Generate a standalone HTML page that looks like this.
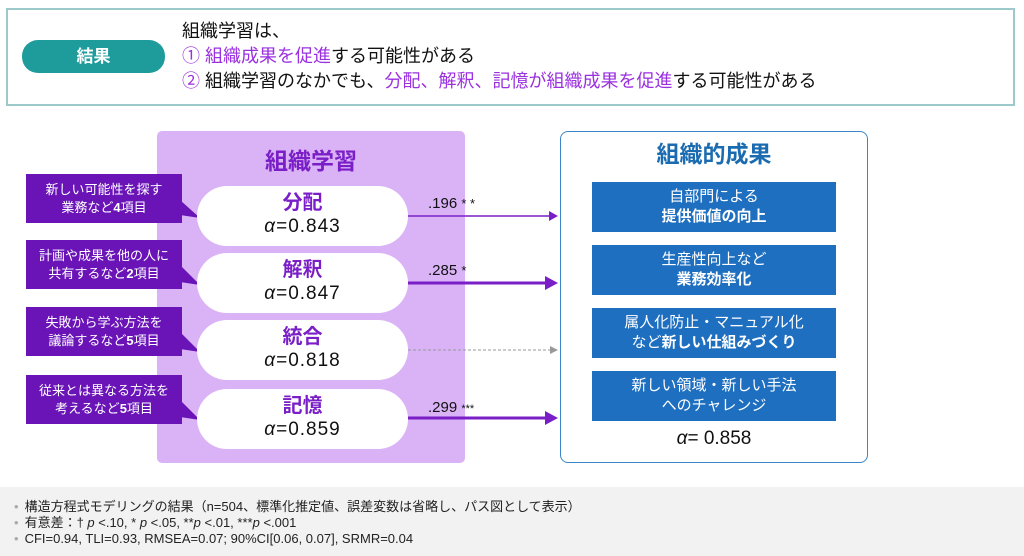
<!DOCTYPE html>
<html><head><meta charset="utf-8"><style>
*{margin:0;padding:0;box-sizing:border-box}
body{width:1024px;height:556px;background:#fff;position:relative;overflow:hidden;font-family:"Liberation Sans","Noto Sans CJK JP",sans-serif;color:#111}
.a{position:absolute}
.pu{color:#9b30e0}
.lab{position:absolute;left:26px;width:156px;background:#6a14b8;color:#fff;font-size:13px;line-height:18px;text-align:center;padding-top:7px;height:49px}
.pill{position:absolute;left:197px;width:211px;height:60px;background:#fff;border-radius:30px;text-align:center}
.pill b{display:block;color:#7a1fc7;font-size:20px;line-height:22px;margin-top:6px}
.pill span{display:block;font-size:19px;line-height:26px;color:#111;letter-spacing:1px}
.ob{position:absolute;left:592px;width:244px;height:50px;background:#1f6fc0;color:#fff;text-align:center;font-size:15px;line-height:20px;padding-top:5px}
.ft{position:absolute;left:14px;font-size:13px;line-height:16px;color:#222;white-space:nowrap}
.ft i{font-style:normal;color:#aaa;margin-right:6px}
</style></head><body>
<div class="a" style="left:6px;top:8px;width:1009px;height:98px;border:2px solid #9cc9c9"></div>
<div class="a" style="left:22px;top:40px;width:143px;height:33px;background:#1e9c9c;border-radius:16px;color:#fff;font-size:17px;line-height:33px;text-align:center;font-weight:bold">結果</div>
<div class="a" style="left:182px;top:19px;font-size:18px;line-height:25px;white-space:nowrap">組織学習は、<br><span class="pu">① 組織成果を促進</span>する可能性がある<br><span class="pu">②</span> 組織学習のなかでも、<span class="pu">分配、解釈、記憶が組織成果を促進</span>する可能性がある</div>

<div class="a" style="left:157px;top:131px;width:308px;height:332px;background:#dab2f6;border-radius:5px"></div>
<div class="a" style="left:157px;top:142px;width:308px;text-align:center;font-size:23px;font-weight:bold;color:#7a1fc7">組織学習</div>

<svg class="a" style="left:0;top:0" width="1024" height="556">
<g fill="#6a14b8">
<polygon points="180,200 200,218 180,215"/>
<polygon points="180,265 200,285 180,282"/>
<polygon points="180,332 200,352 180,349"/>
<polygon points="180,400 200,420 180,417"/>
</g>
<line x1="408" y1="216" x2="550" y2="216" stroke="#7a1fc7" stroke-width="1.5"/>
<polygon points="549,211 558,216 549,221" fill="#7a1fc7"/>
<line x1="408" y1="283" x2="548" y2="283" stroke="#7a1fc7" stroke-width="3"/>
<polygon points="545,276 558,283 545,290" fill="#7a1fc7"/>
<line x1="408" y1="350" x2="550" y2="350" stroke="#999" stroke-width="1" stroke-dasharray="3,2"/>
<polygon points="550,346 558,350 550,354" fill="#999"/>
<line x1="408" y1="418" x2="548" y2="418" stroke="#7a1fc7" stroke-width="3"/>
<polygon points="545,411 558,418 545,425" fill="#7a1fc7"/>
</svg>

<div class="lab" style="top:174px">新しい可能性を探す<br>業務など<b>4</b>項目</div>
<div class="lab" style="top:240px">計画や成果を他の人に<br>共有するなど<b>2</b>項目</div>
<div class="lab" style="top:307px">失敗から学ぶ方法を<br>議論するなど<b>5</b>項目</div>
<div class="lab" style="top:375px">従来とは異なる方法を<br>考えるなど<b>5</b>項目</div>

<div class="pill" style="top:186px"><b>分配</b><span><i>α</i>=0.843</span></div>
<div class="pill" style="top:253px"><b>解釈</b><span><i>α</i>=0.847</span></div>
<div class="pill" style="top:320px"><b>統合</b><span><i>α</i>=0.818</span></div>
<div class="pill" style="top:389px"><b>記憶</b><span><i>α</i>=0.859</span></div>

<div class="a" style="left:428px;top:195px;font-size:15px">.196 <span style="font-size:13px">* *</span></div>
<div class="a" style="left:428px;top:262px;font-size:15px">.285 <span style="font-size:13px">*</span></div>
<div class="a" style="left:428px;top:399px;font-size:15px">.299 <span style="font-size:11px">***</span></div>

<div class="a" style="left:560px;top:131px;width:308px;height:332px;border:1.5px solid #3a86c8;border-radius:8px"></div>
<div class="a" style="left:560px;top:135px;width:308px;text-align:center;font-size:23px;font-weight:bold;color:#1a6bb0">組織的成果</div>
<div class="ob" style="top:182px">自部門による<br><b>提供価値の向上</b></div>
<div class="ob" style="top:245px">生産性向上など<br><b>業務効率化</b></div>
<div class="ob" style="top:308px">属人化防止・マニュアル化<br>など<b>新しい仕組みづくり</b></div>
<div class="ob" style="top:371px">新しい領域・新しい手法<br>へのチャレンジ</div>
<div class="a" style="left:560px;top:428px;width:308px;text-align:center;font-size:19px"><i>α</i>= 0.858</div>

<div class="a" style="left:0;top:487px;width:1024px;height:69px;background:#f2f2f2"></div>
<div class="ft" style="top:499px"><i>•</i>構造方程式モデリングの結果（n=504、標準化推定値、誤差変数は省略し、パス図として表示）</div>
<div class="ft" style="top:515px"><i>•</i>有意差：† <em>p</em> &lt;.10, * <em>p</em> &lt;.05, **<em>p</em> &lt;.01, ***<em>p</em> &lt;.001</div>
<div class="ft" style="top:531px"><i>•</i>CFI=0.94, TLI=0.93, RMSEA=0.07; 90%CI[0.06, 0.07], SRMR=0.04</div>
</body></html>
